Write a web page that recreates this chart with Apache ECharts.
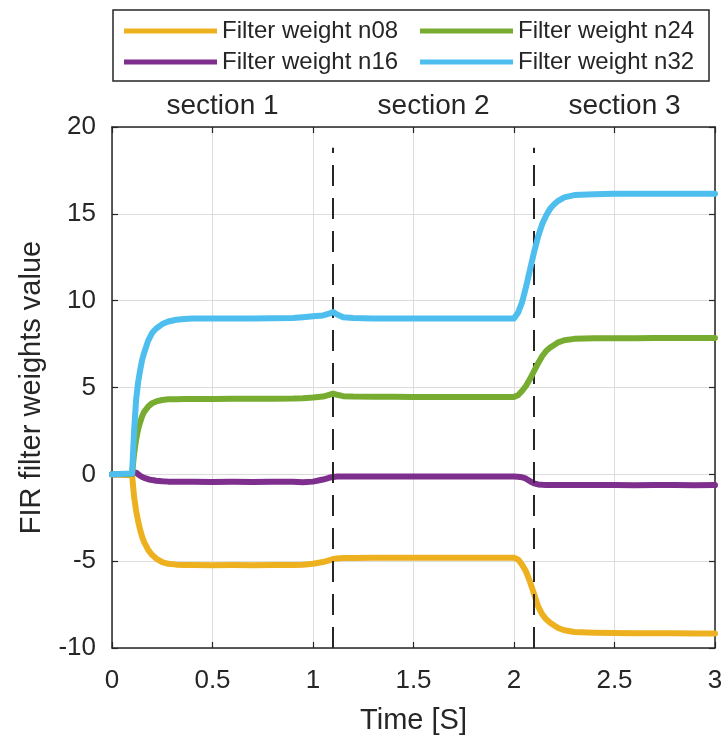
<!DOCTYPE html>
<html><head><meta charset="utf-8">
<script src="https://cdn.jsdelivr.net/npm/echarts@6/dist/echarts.min.js"></script>
<style>html,body{margin:0;padding:0;background:#fff}#c{width:726px;height:742px}</style>
</head><body><div id="c"></div>
<script>
const time = [
  0, 0.1, 0.11, 0.12, 0.13, 0.14, 0.15, 0.16, 0.18, 0.2,
  0.22, 0.25, 0.28, 0.32, 0.36, 0.4, 0.5, 0.6, 0.7, 0.8,
  0.9, 0.95, 1.0, 1.05, 1.08, 1.1, 1.12, 1.15, 1.2, 1.3,
  1.4, 1.5, 1.6, 1.7, 1.8, 1.9, 2.0, 2.02, 2.04, 2.06,
  2.08, 2.1, 2.12, 2.14, 2.16, 2.18, 2.2, 2.22, 2.25, 2.3,
  2.4, 2.5, 2.6, 2.7, 2.8, 2.9, 3.0
];
const n08 = [
  0, -0.05, -1.3, -2.1, -2.7, -3.2, -3.6, -3.9, -4.35, -4.65,
  -4.85, -5.05, -5.15, -5.2, -5.22, -5.22, -5.23, -5.22, -5.23, -5.22,
  -5.22, -5.2, -5.15, -5.05, -4.95, -4.88, -4.85, -4.82, -4.82, -4.81,
  -4.8, -4.8, -4.81, -4.8, -4.8, -4.8, -4.8, -4.9, -5.2, -5.6,
  -6.2, -6.9, -7.6, -8.05, -8.35, -8.55, -8.7, -8.85, -8.98, -9.08,
  -9.12, -9.14, -9.15, -9.15, -9.15, -9.16, -9.16
];
const n16 = [
  0, 0.02, 0.12, 0.1, 0.0, -0.08, -0.15, -0.2, -0.28, -0.33,
  -0.37, -0.4, -0.42, -0.43, -0.43, -0.43, -0.44, -0.43, -0.44, -0.43,
  -0.43, -0.45, -0.42, -0.3, -0.2, -0.15, -0.13, -0.13, -0.13, -0.13,
  -0.12, -0.13, -0.13, -0.12, -0.13, -0.13, -0.13, -0.14, -0.17, -0.25,
  -0.4, -0.52, -0.58, -0.6, -0.61, -0.61, -0.62, -0.62, -0.62, -0.62,
  -0.62, -0.62, -0.63, -0.62, -0.62, -0.63, -0.62
];
const n24 = [
  0, 0.02, 1.2, 2.0, 2.6, 3.0, 3.35, 3.6, 3.9, 4.1,
  4.2, 4.28, 4.32, 4.33, 4.34, 4.34, 4.34, 4.35, 4.35, 4.35,
  4.36, 4.38, 4.42, 4.48, 4.58, 4.65, 4.58, 4.5, 4.48, 4.47,
  4.47, 4.46, 4.46, 4.46, 4.46, 4.46, 4.46, 4.55, 4.8, 5.1,
  5.5, 5.95, 6.4, 6.8, 7.1, 7.3, 7.45, 7.6, 7.72, 7.8,
  7.83, 7.84, 7.84, 7.85, 7.85, 7.85, 7.85
];
const n32 = [
  0, 0.05, 2.5, 4.3, 5.3, 6.0, 6.6, 7.0, 7.7, 8.15,
  8.4, 8.65, 8.8, 8.9, 8.95, 8.97, 8.98, 8.98, 8.98, 8.99,
  9.0, 9.05, 9.1, 9.15, 9.25, 9.35, 9.2, 9.05, 9.0, 8.98,
  8.97, 8.97, 8.97, 8.97, 8.97, 8.97, 8.98, 9.3, 9.9, 10.8,
  11.8, 12.8, 13.7, 14.4, 14.9, 15.3, 15.55, 15.75, 15.95, 16.08,
  16.13, 16.15, 16.15, 16.15, 16.16, 16.15, 16.15
];
const seriesNames = ['Filter weight n08', 'Filter weight n16', 'Filter weight n24', 'Filter weight n32'];
const seriesValues = [n08, n16, n24, n32];
const colors = ['#EDB120', '#7E2F8E', '#77AC30', '#4DBEEE'];
const sectionBounds = [1.1, 2.1];
const boundaryExtent = [-10, 18.8];
const sectionLabels = ['section 1', 'section 2', 'section 3'];
const xRange = [0, 3];
const yRange = [-10, 20];
const xTitle = 'Time [S]';
const yTitle = 'FIR filter weights value';

const FONT = "'Liberation Sans', Arial, sans-serif";
const TXT = '#262626';
const chart = echarts.init(document.getElementById('c'), null, {renderer: 'canvas'});

const series = seriesNames.map((name, i) => ({
  name,
  type: 'line',
  data: time.map((t, k) => [t, seriesValues[i][k]]),
  showSymbol: false,
  symbol: 'none',
  color: colors[i],
  lineStyle: {width: 6, color: colors[i], join: 'round', cap: 'round'},
  z: 3 + i,
  animation: false
}));
series[0].markLine = {
  silent: true,
  symbol: 'none',
  label: {show: false},
  lineStyle: {color: '#262626', width: 2, type: [21, 12]},
  data: sectionBounds.map(b => [{coord: [b, boundaryExtent[0]]}, {coord: [b, boundaryExtent[1]]}]),
  animation: false
};

const axisBase = {
  type: 'value',
  axisLine: {show: true, onZero: false, lineStyle: {color: '#262626', width: 1.5}},
  axisTick: {show: true, inside: true, length: 6, lineStyle: {color: '#262626', width: 1.2}},
  splitLine: {show: false}
};

const legendBase = {
  orient: 'vertical',
  padding: 0,
  itemWidth: 93,
  itemHeight: 5,
  itemGap: 7,
  icon: 'rect',
  textStyle: {fontFamily: FONT, fontSize: 24, color: TXT},
  selectedMode: false
};

chart.setOption({
  animation: false,
  backgroundColor: '#fff',
  grid: {left: 112, right: 11, top: 127, bottom: 94},
  legend: [
    Object.assign({}, legendBase, {data: [seriesNames[0], seriesNames[1]], left: 124, top: 19}),
    Object.assign({}, legendBase, {data: [seriesNames[2], seriesNames[3]], left: 420, top: 19})
  ],
  xAxis: [
    Object.assign({}, axisBase, {
      min: xRange[0], max: xRange[1], interval: 0.5, position: 'bottom',
      name: xTitle, nameLocation: 'middle', nameGap: 58,
      nameTextStyle: {fontFamily: FONT, fontSize: 29, color: TXT},
      axisLabel: {fontFamily: FONT, fontSize: 26, color: TXT, margin: 20},
      splitLine: {show: true, lineStyle: {color: '#dcdcdc', width: 1}}
    }),
    Object.assign({}, axisBase, {
      min: xRange[0], max: xRange[1], interval: 0.5, position: 'top',
      axisLabel: {show: false}
    })
  ],
  yAxis: [
    Object.assign({}, axisBase, {
      min: yRange[0], max: yRange[1], interval: 5, position: 'left',
      name: yTitle, nameLocation: 'middle', nameGap: 66, nameRotate: 90,
      nameTextStyle: {fontFamily: FONT, fontSize: 29, color: TXT},
      axisLabel: {fontFamily: FONT, fontSize: 26, color: TXT, margin: 16},
      splitLine: {show: true, lineStyle: {color: '#dcdcdc', width: 1}}
    }),
    Object.assign({}, axisBase, {
      min: yRange[0], max: yRange[1], interval: 5, position: 'right',
      axisLabel: {show: false}
    })
  ],
  series
});

// section labels centred over each section, plus legend frame
const edges = [xRange[0]].concat(sectionBounds, [xRange[1]]);
const graphics = sectionLabels.map((s, i) => {
  const mid = (edges[i] + edges[i + 1]) / 2;
  const px = chart.convertToPixel({xAxisIndex: 0}, mid);
  return {
    type: 'text', x: px, y: 106,
    style: {text: s, font: '28px ' + FONT, fill: TXT, textAlign: 'center', textVerticalAlign: 'middle'}
  };
});
graphics.push({
  type: 'rect', shape: {x: 113, y: 10, width: 596, height: 71},
  style: {fill: 'none', stroke: '#262626', lineWidth: 1.5}, z: 0
});
chart.setOption({graphic: graphics});
</script></body></html>
